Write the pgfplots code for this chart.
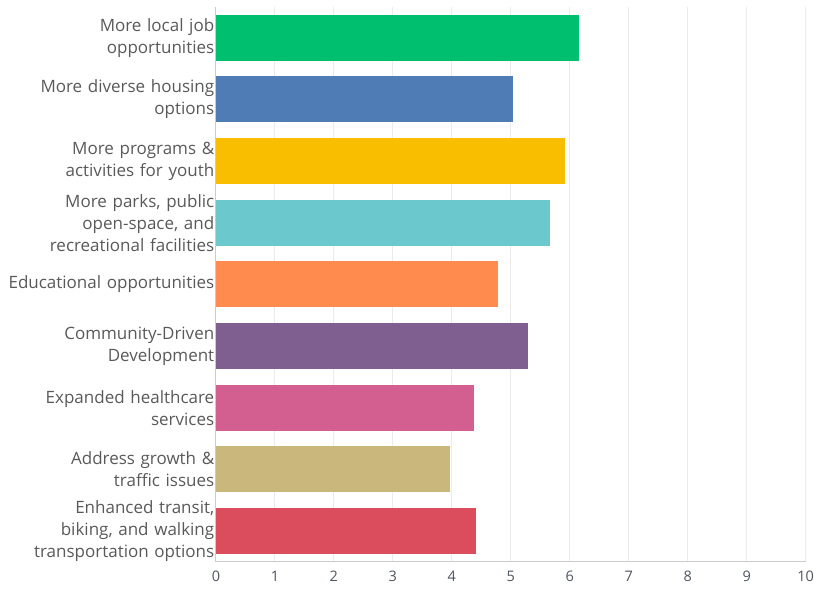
\documentclass[border=0pt]{standalone}
\usepackage{pgfplots}
\pgfplotsset{compat=1.18}
\usepackage{fontspec}
\setmainfont{Open Sans}
\definecolor{cgreen}{HTML}{00BF6F}
\definecolor{cblue}{HTML}{507CB6}
\definecolor{cyellow}{HTML}{F9BE00}
\definecolor{cteal}{HTML}{6BC8CD}
\definecolor{corange}{HTML}{FF8B4F}
\definecolor{cpurple}{HTML}{7F5F90}
\definecolor{cpink}{HTML}{D25F90}
\definecolor{ctan}{HTML}{C9B77B}
\definecolor{cred}{HTML}{DB4D5C}
\definecolor{labgray}{HTML}{595959}
\definecolor{tickgray}{HTML}{4F5460}
\definecolor{gridgray}{HTML}{EBEBEB}
\definecolor{axgray}{HTML}{CCCCCC}
\begin{document}
\begin{tikzpicture}
\begin{axis}[
  name=ax,
  scale only axis,
  width=590pt, height=555pt,
  xbar, bar width=46pt, bar shift=0pt,
  xmin=0, xmax=10,
  ymin=-0.5, ymax=8.5,
  y dir=reverse,
  xtick={0,1,...,10},
  ytick={0,...,8},
  yticklabels={
    {More local job\\opportunities},
    {More diverse housing\\options},
    {More programs \&\\activities for youth},
    {More parks, public\\open-space, and\\recreational facilities},
    {Educational opportunities},
    {Community-Driven\\Development},
    {Expanded healthcare\\services},
    {Address growth \&\\traffic issues},
    {Enhanced transit,\\biking, and walking\\transportation options}
  },
  yticklabel style={align=right, text width=206pt, font=\fontsize{17}{22}\selectfont, text=labgray, inner xsep=1.5pt},
  xticklabel style={font=\fontsize{14.5}{16}\selectfont, text=tickgray, inner xsep=0pt, yshift=-6pt},
  /pgf/number format/assume math mode=true,
  major tick length=0pt,
  xmajorgrids, grid style={gridgray, line width=1pt},
  axis x line*=bottom, axis y line*=left,
  x axis line style={axgray, line width=1pt, -},
  y axis line style={axgray, line width=1pt, -},
  every axis plot/.append style={draw=none},
]
\addplot[fill=cgreen] coordinates {(6.15,0)};
\addplot[fill=cblue] coordinates {(5.03,1)};
\addplot[fill=cyellow] coordinates {(5.92,2)};
\addplot[fill=cteal] coordinates {(5.66,3)};
\addplot[fill=corange] coordinates {(4.78,4)};
\addplot[fill=cpurple] coordinates {(5.29,5)};
\addplot[fill=cpink] coordinates {(4.37,6)};
\addplot[fill=ctan] coordinates {(3.97,7)};
\addplot[fill=cred] coordinates {(4.41,8)};
\end{axis}
\path (ax.south west) ++(-216pt,-30pt);
\path (ax.north east) ++(8pt,7pt);
\end{tikzpicture}
\end{document}
